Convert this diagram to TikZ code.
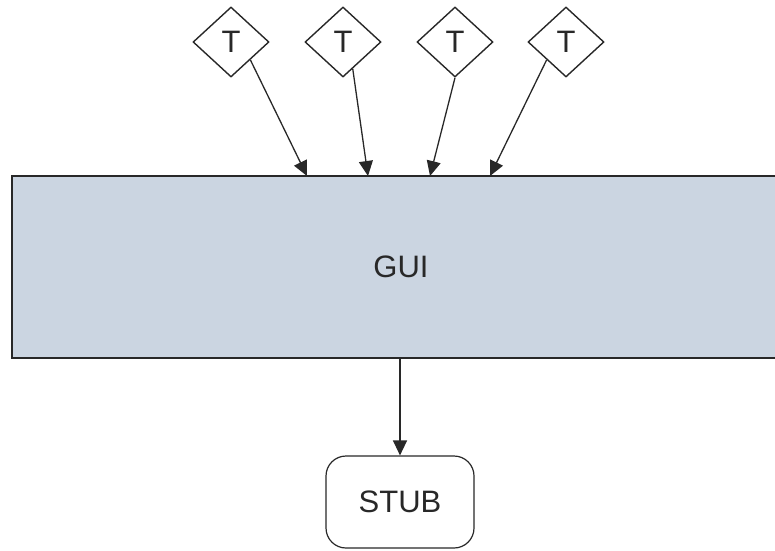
\documentclass[tikz,border=0pt]{standalone}
\usepackage{fontspec}
\setmainfont{Liberation Sans}
\usetikzlibrary{shapes.geometric,arrows.meta}
\definecolor{guifill}{RGB}{203,213,225}
\definecolor{ink}{RGB}{40,40,40}
\begin{document}
\begin{tikzpicture}[x=1pt,y=-1pt,
  every node/.style={font=\fontsize{31}{31}\selectfont, text=ink},
  tbox/.style={draw=ink, line width=1.4pt, shape=diamond, aspect=1.08, inner sep=0pt, minimum width=76pt, minimum height=70pt},
  conn/.style={draw=ink, line width=1.3pt, -{Triangle[length=15pt,width=14pt]}},
  guibox/.style={draw=ink, line width=1.6pt, fill=guifill, minimum width=778pt, minimum height=182pt, inner sep=0pt},
  stubbox/.style={draw=ink, line width=1.2pt, rounded corners=20pt, minimum width=148pt, minimum height=92pt, inner sep=0pt}]
\useasboundingbox (0,0) rectangle (775,550);
\clip (0,0) rectangle (775,550);
\node[guibox] (gui) at (401,267) {GUI};
\node[stubbox] (stub) at (400,502) {STUB};
\node[tbox] (t1) at (231,42) {T};
\node[tbox] (t2) at (343,42) {T};
\node[tbox] (t3) at (455,42) {T};
\node[tbox] (t4) at (566,42) {T};
\coordinate (g1) at (307,176);
\coordinate (g2) at (368,176);
\coordinate (g3) at (430,176);
\coordinate (g4) at (490,176);
\draw[conn] (t1.south east) -- (g1);
\draw[conn] (t2.-70) -- (g2);
\draw[conn] (t3.south) -- (g3);
\draw[conn] (t4.south west) -- (g4);
\draw[conn] (gui.south -| stub.north) -- (stub.north);
\end{tikzpicture}
\end{document}
